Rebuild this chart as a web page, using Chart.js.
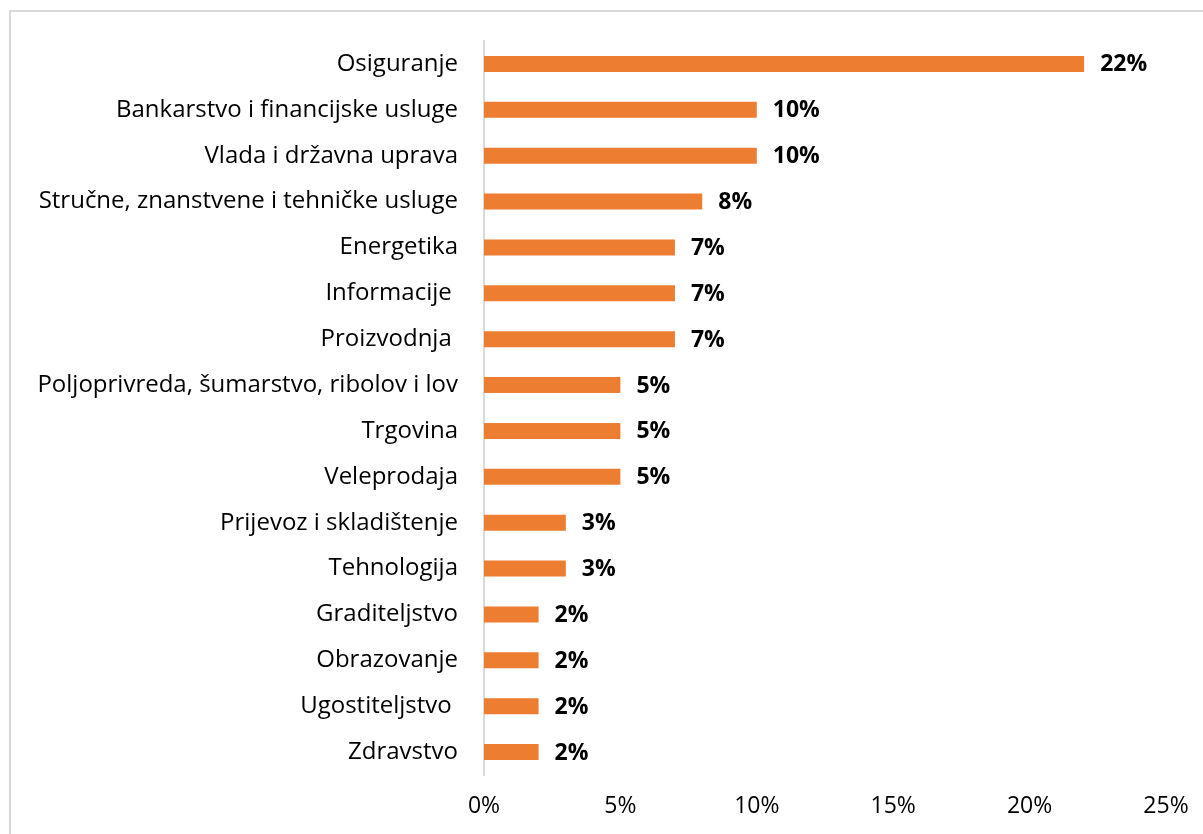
<!DOCTYPE html>
<html>
<head>
<meta charset="utf-8">
<script src="https://cdn.jsdelivr.net/npm/chart.js@4"></script>
<style>
  html, body { margin: 0; padding: 0; background: #fff; overflow: hidden; }
  #frame { position: absolute; left: 9px; top: 10px; width: 1300px; height: 900px; border: 2px solid #d9d9d9; }
  #wrap { position: absolute; left: 0; top: 0; width: 1203px; height: 834px; }
</style>
</head>
<body>
<div id="frame"></div>
<div id="wrap"><canvas id="barChart"></canvas></div>
<script>
// категории и значения (проценты)
const categories = [
  "Osiguranje",
  "Bankarstvo i financijske usluge",
  "Vlada i državna uprava",
  "Stručne, znanstvene i tehničke usluge",
  "Energetika",
  "Informacije ",
  "Proizvodnja ",
  "Poljoprivreda, šumarstvo, ribolov i lov",
  "Trgovina",
  "Veleprodaja",
  "Prijevoz i skladištenje",
  "Tehnologija",
  "Graditeljstvo",
  "Obrazovanje",
  "Ugostiteljstvo ",
  "Zdravstvo",
];
const shares = [22, 10, 10, 8, 7, 7, 7, 5, 5, 5, 3, 3, 2, 2, 2, 2];
const xTicks = [0, 5, 10, 15, 20, 25];

const FONT = "'Open Sans', sans-serif";

// подписи значений справа от столбцов
const valueLabels = {
  id: "valueLabels",
  afterDatasetsDraw(chart) {
    const { ctx } = chart;
    const meta = chart.getDatasetMeta(0);
    ctx.save();
    ctx.font = "bold 23px " + FONT;
    ctx.fillStyle = "#000";
    ctx.textAlign = "left";
    ctx.textBaseline = "middle";
    meta.data.forEach((bar, i) => {
      ctx.fillText(shares[i] + "%", bar.x + 16, bar.y + 1);
    });
    ctx.restore();
  },
};

const ctx = document.getElementById("barChart").getContext("2d");

const myChart = new Chart(ctx, {
  type: "bar",
  data: {
    labels: categories,
    datasets: [
      {
        data: shares,
        backgroundColor: "#ED7D31",
        borderWidth: 0,
        barPercentage: 0.7,
        categoryPercentage: 0.5,
      },
    ],
  },
  options: {
    indexAxis: "y",
    responsive: true,
    maintainAspectRatio: false,
    animation: false,
    layout: {
      padding: { top: 41, right: 37, left: 0, bottom: 0 },
    },
    scales: {
      x: {
        min: 0,
        max: 25,
        afterBuildTicks: (scale) => {
          scale.ticks = xTicks.map((v) => ({ value: v }));
        },
        afterFit: (scale) => {
          scale.height = 59;
        },
        grid: { display: false },
        border: { display: false },
        ticks: {
          padding: 10,
          color: "#000",
          font: { family: FONT, size: 23 },
          callback: (v) => v + "%",
        },
      },
      y: {
        afterFit: (scale) => {
          scale.width = 484;
        },
        grid: { display: false },
        border: { display: true, color: "#d9d9d9", width: 2 },
        ticks: {
          padding: 18,
          color: "#000",
          font: { family: FONT, size: 24 },
        },
      },
    },
    plugins: {
      legend: { display: false },
      tooltip: { enabled: false },
    },
  },
  plugins: [valueLabels],
});
</script>
</body>
</html>
